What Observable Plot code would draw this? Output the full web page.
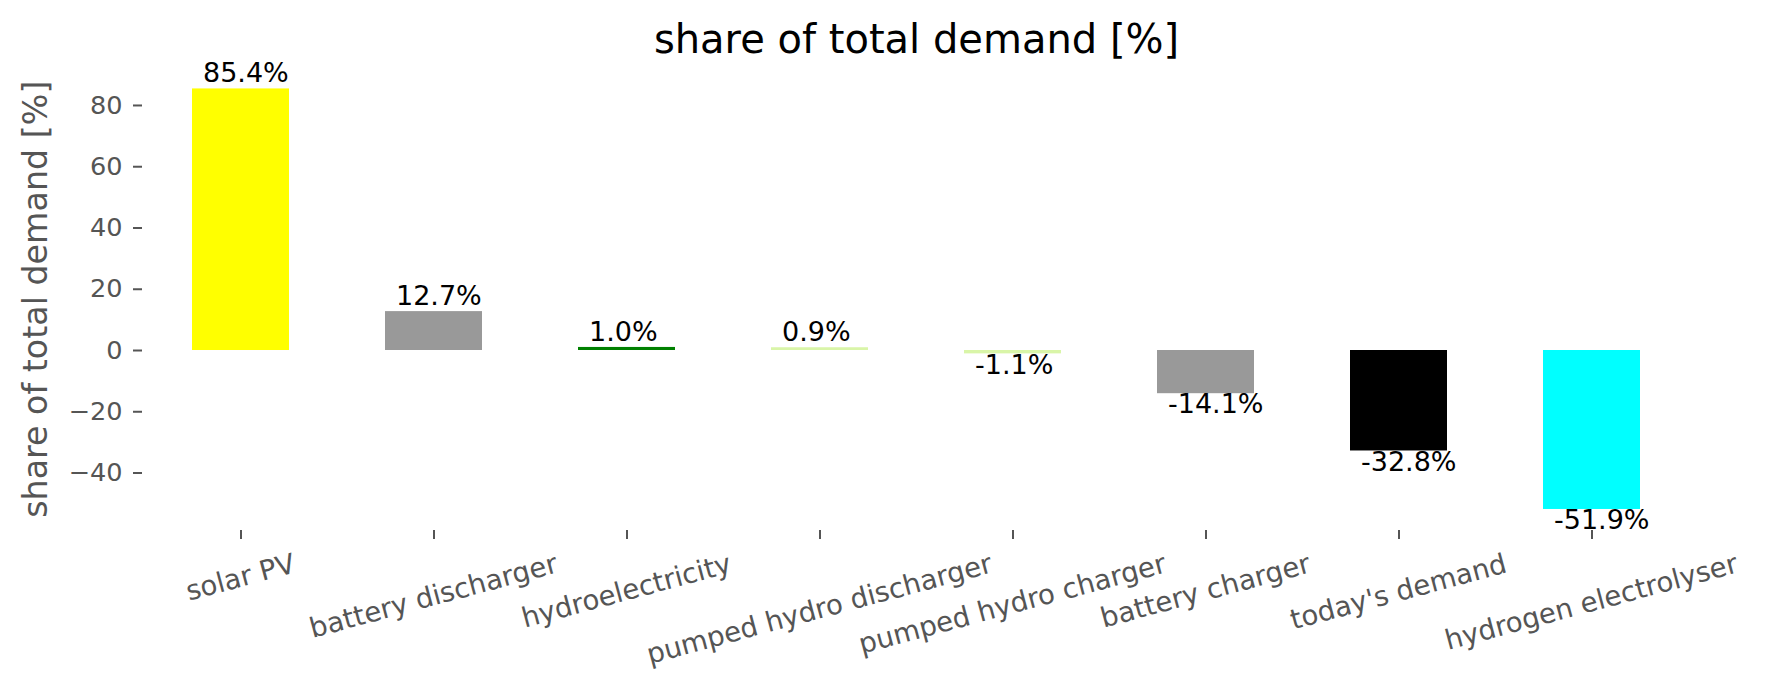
<!DOCTYPE html>
<html>
<head>
<meta charset="utf-8">
<script src="https://cdn.jsdelivr.net/npm/d3@7"></script>
<script src="https://cdn.jsdelivr.net/npm/@observablehq/plot@0.6"></script>
<style>
  html, body { margin: 0; padding: 0; background: #fff; }
</style>
</head>
<body>
<div id="chart"></div>
<script>
const categories = ["solar PV", "battery discharger", "hydroelectricity", "pumped hydro discharger", "pumped hydro charger", "battery charger", "today's demand", "hydrogen electrolyser"];
const shares = [85.4, 12.7, 1.0, 0.9, -1.1, -14.1, -32.8, -51.9];
const colors = ["#ffff00", "#999999", "#008000", "#d9f5a8", "#d9f5a8", "#999999", "#000000", "#00ffff"];
const yTicks = [-40, -20, 0, 20, 40, 60, 80];
const titleText = "share of total demand [%]";
const yLabelText = "share of total demand [%]";

const data = categories.map((c, i) => ({cat: c, value: shares[i], color: colors[i]}));

const W = 1765, H = 689;
const mTop = 67.4, mBottom = 159, mLeft = 142, mRight = 75;
const vmin = d3.min(shares), vmax = d3.max(shares);
const pad = (vmax - vmin) * 0.05;

// measure label widths for centred rotated tick labels (matplotlib-style)
const ctx = document.createElement("canvas").getContext("2d");
const tickFont = 27.6;
ctx.font = `${tickFont}px "DejaVu Sans"`;
const ang = 15 * Math.PI / 180;
const labelOffset = c => {
  const w = ctx.measureText(c).width;
  return 20 + (w * Math.sin(ang) + tickFont * Math.cos(ang)) / 2;
};

// custom rotated x tick labels, positioned through the plot's x scale
function xLabels(index, scales, values, dims) {
  const g = d3.create("svg:g");
  const bw = scales.x.bandwidth ? scales.x.bandwidth() : 0;
  const yBase = dims.height - dims.marginBottom;
  for (const c of categories) {
    const cx = scales.x(c) + bw / 2;
    const cy = yBase + labelOffset(c);
    g.append("text")
      .attr("transform", `translate(${cx},${cy}) rotate(-15)`)
      .attr("text-anchor", "middle")
      .attr("dy", "0.32em")
      .attr("fill", "#555")
      .attr("font-size", tickFont)
      .text(c);
  }
  return g.node();
}

const plot = Plot.plot({
  width: W,
  height: H,
  marginTop: mTop,
  marginBottom: mBottom,
  marginLeft: mLeft,
  marginRight: mRight,
  style: {fontFamily: "'DejaVu Sans', sans-serif", background: "#fff"},
  x: {domain: categories, paddingInner: 0.5, paddingOuter: 0.25},
  y: {domain: [vmin - pad, vmax + pad]},
  color: {type: "identity"},
  marks: [
    Plot.barY(data, {x: "cat", y: "value", fill: "color"}),
    Plot.axisY({ticks: yTicks, tickFormat: d3.format("d"), tickSize: 9, tickPadding: 11, fontSize: 25.6, stroke: "#555", strokeWidth: 2, fill: "#555", label: null}),
    Plot.axisX({tickSize: 9, fill: "none", stroke: "#555", strokeWidth: 2, label: null}),
    Plot.text(categories, {x: d => d, text: d => d, render: xLabels}),
    Plot.text(data.filter(d => d.value >= 0), {x: "cat", y: "value", text: d => d.value.toFixed(1) + "%", textAnchor: "start", lineAnchor: "top", dx: -38, dy: -25.6, fontSize: 27, fill: "#000"}),
    Plot.text(data.filter(d => d.value < 0), {x: "cat", y: "value", text: d => d.value.toFixed(1) + "%", textAnchor: "start", lineAnchor: "top", dx: -38, dy: 0.5, fontSize: 27, fill: "#000"}),
    Plot.text([titleText], {frameAnchor: "top", text: d => d, textAnchor: "middle", lineAnchor: "top", dy: -43.8, fontSize: 40, fill: "#000"}),
    Plot.text([yLabelText], {frameAnchor: "left", text: d => d, rotate: -90, textAnchor: "middle", lineAnchor: "middle", dx: -106, fontSize: 33.3, fill: "#555"})
  ]
});
document.getElementById("chart").appendChild(plot);
</script>
</body>
</html>
